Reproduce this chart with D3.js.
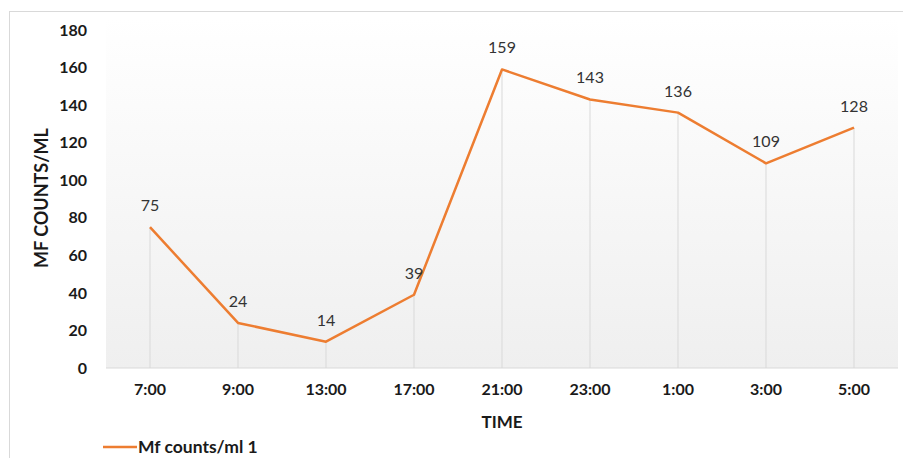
<!DOCTYPE html>
<html lang="en">
<head>
<meta charset="utf-8" />
<title>Mf counts</title>
<script src="https://cdn.jsdelivr.net/npm/d3@7"></script>
<style>
  body { margin: 0; background: #fff; }
  text { font-family: Lato, "Open Sans", sans-serif; }
</style>
</head>
<body>
<script>
var times = ['7:00', '9:00', '13:00', '17:00', '21:00', '23:00', '1:00', '3:00', '5:00'];
var counts = [75, 24, 14, 39, 159, 143, 136, 109, 128];
var yTicks = [0, 20, 40, 60, 80, 100, 120, 140, 160, 180];

var W = 903, H = 458;
var mLeft = 106, mRight = 898, mTop = 30, mBottom = 368;

var svg = d3.select('body').append('svg')
  .attr('width', W)
  .attr('height', H);

var defs = svg.append('defs');
var grad = defs.append('linearGradient')
  .attr('id', 'bg').attr('x1', 0).attr('y1', 0).attr('x2', 0).attr('y2', 1);
grad.append('stop').attr('offset', '0%').attr('stop-color', '#ffffff');
grad.append('stop').attr('offset', '100%').attr('stop-color', '#efefef');

// outer chart border
svg.append('rect')
  .attr('x', 9.5).attr('y', 11.5)
  .attr('width', W).attr('height', H)
  .attr('fill', 'none')
  .attr('stroke', '#d9d9d9');

var x = d3.scaleBand().domain(times).range([mLeft, mRight]);
var y = d3.scaleLinear().domain([0, 180]).range([mBottom, mTop]);

// plot area
svg.append('rect')
  .attr('x', mLeft).attr('y', 18)
  .attr('width', mRight - mLeft).attr('height', mBottom - 18)
  .attr('fill', 'url(#bg)');

var cx = function(d) { return x(d) + x.bandwidth() / 2; };

// drop lines
svg.selectAll('.drop').data(times).enter().append('line')
  .attr('x1', cx).attr('x2', cx)
  .attr('y1', function(d, i) { return y(counts[i]); })
  .attr('y2', y(0))
  .attr('stroke', '#d9d9d9')
  .attr('stroke-width', 1);

// baseline
svg.append('line')
  .attr('x1', mLeft).attr('x2', mRight)
  .attr('y1', y(0)).attr('y2', y(0))
  .attr('stroke', '#d9d9d9')
  .attr('stroke-width', 1);

// y axis
var yAxis = d3.axisLeft(y).tickValues(yTicks).tickSize(0).tickPadding(0);
var gy = svg.append('g').attr('transform', 'translate(' + (mLeft - 19) + ',0)').call(yAxis);
gy.select('.domain').remove();
gy.selectAll('text')
  .attr('font-size', 16).attr('font-weight', 'bold')
  .attr('fill', '#1a1a1a')
  .style('font-family', 'Lato, sans-serif');

// x axis
var xAxis = d3.axisBottom(x).tickSize(0).tickPadding(0);
var gx = svg.append('g').attr('transform', 'translate(0,' + (mBottom + 16) + ')').call(xAxis);
gx.select('.domain').remove();
gx.selectAll('text')
  .attr('font-size', 16).attr('font-weight', 'bold')
  .attr('fill', '#1a1a1a')
  .style('font-family', 'Lato, sans-serif');

// line
var line = d3.line()
  .x(function(d, i) { return cx(times[i]); })
  .y(function(d) { return y(d); });

svg.append('path')
  .datum(counts)
  .attr('d', line)
  .attr('fill', 'none')
  .attr('stroke', '#ED7D31')
  .attr('stroke-width', 2.5)
  .attr('stroke-linejoin', 'round');

// data labels
svg.selectAll('.lbl').data(counts).enter().append('text')
  .attr('x', function(d, i) { return cx(times[i]); })
  .attr('y', function(d) { return y(d) - 16; })
  .attr('text-anchor', 'middle')
  .attr('font-size', 16)
  .attr('fill', '#333')
  .text(function(d) { return d; });

// axis titles
svg.append('text')
  .attr('transform', 'translate(48,198) rotate(-90)')
  .attr('text-anchor', 'middle')
  .attr('font-size', 18).attr('font-weight', 'bold')
  .attr('fill', '#1a1a1a')
  .text('MF COUNTS/ML');

svg.append('text')
  .attr('x', (mLeft + mRight) / 2).attr('y', 428)
  .attr('text-anchor', 'middle')
  .attr('font-size', 17).attr('font-weight', 'bold')
  .attr('fill', '#1a1a1a')
  .text('TIME');

// legend
svg.append('line')
  .attr('x1', 103).attr('x2', 137)
  .attr('y1', 447).attr('y2', 447)
  .attr('stroke', '#ED7D31').attr('stroke-width', 2.5);
svg.append('text')
  .attr('x', 138).attr('y', 453)
  .attr('font-size', 17.5).attr('font-weight', 'bold')
  .attr('fill', '#1a1a1a')
  .text('Mf counts/ml 1');
</script>
</body>
</html>
